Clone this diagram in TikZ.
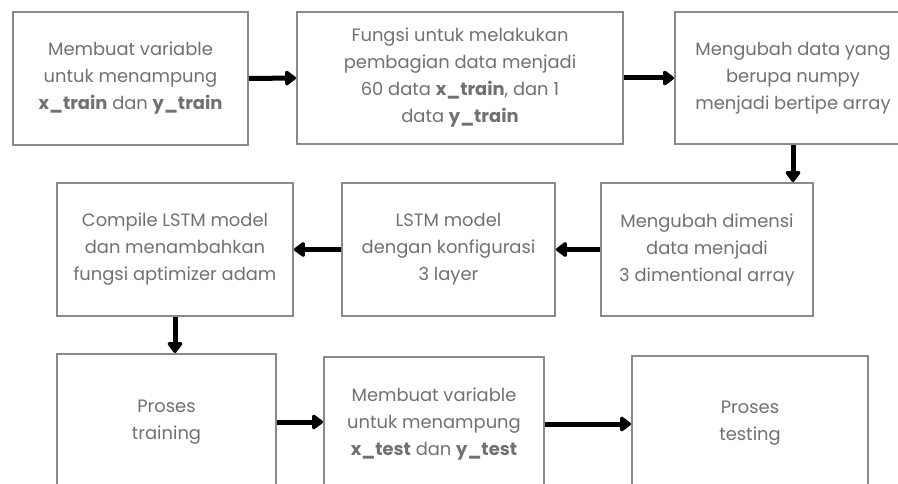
\documentclass[tikz,border=0pt]{standalone}
\usepackage{fontspec}
\setmainfont{Poppins}
\usetikzlibrary{arrows.meta}
\definecolor{boxline}{HTML}{8A8A8A}
\definecolor{boxtext}{HTML}{717171}
\tikzset{
  stepbox/.style={draw=boxline, line width=1.8pt, fill=white, align=center,
    text=boxtext, font=\fontsize{17.9}{27}\selectfont, inner sep=0pt},
  flow/.style={line width=5pt, -{Triangle[length=12pt,width=17pt,round]}, black}
}
\begin{document}
\begin{tikzpicture}[x=1pt,y=-1pt]
\clip (0,0) rectangle (898,484);
\fill[white] (0,0) rectangle (898,484);
% first row
\node[stepbox, minimum width=235pt, minimum height=133pt] (b1) at (130.5,78.5)
  {Membuat variable\\untuk menampung\\\textbf{x\_train} dan \textbf{y\_train}};
\node[stepbox, minimum width=326pt, minimum height=132pt] (b2) at (460,78)
  {Fungsi untuk melakukan\\pembagian data menjadi\\60 data \textbf{x\_train}, dan 1\\data \textbf{y\_train}};
\node[stepbox, minimum width=236pt, minimum height=132pt] (b3) at (793,78)
  {Mengubah data yang\\berupa numpy\\menjadi bertipe array};
% second row
\node[stepbox, minimum width=236pt, minimum height=133pt] (b4) at (175,249.5)
  {Compile LSTM model\\dan menambahkan\\fungsi aptimizer adam};
\node[stepbox, minimum width=213pt, minimum height=133pt] (b5) at (448.5,249.5)
  {LSTM model\\dengan konfigurasi\\3 layer};
\node[stepbox, minimum width=212pt, minimum height=133pt] (b6) at (707,249.5)
  {Mengubah dimensi\\data menjadi\\3 dimentional array};
% third row (runs past the lower edge)
\node[stepbox, minimum width=219pt, minimum height=136pt] (b7) at (166.5,422)
  {Proses\\training};
\node[stepbox, minimum width=220pt, minimum height=134pt] (b8) at (434,424)
  {Membuat variable\\untuk menampung\\\textbf{x\_test} dan \textbf{y\_test}};
\node[stepbox, minimum width=236pt, minimum height=134pt] (b9) at (750,423)
  {Proses\\testing};
% connectors
\draw[flow] (b1.east) -- (b2.west);
\draw[flow] (b2.east) -- (b3.west);
\draw[flow] (b3.south) -- (b3.south |- b6.north);
\draw[flow] (b6.west) -- (b5.east);
\draw[flow] (b5.west) -- (b4.east);
\draw[flow] (b4.south) -- (b4.south |- b7.north);
\draw[flow] (b7.east) -- (b7.east -| b8.west);
\draw[flow] (b8.east) -- (b8.east -| b9.west);
\end{tikzpicture}
\end{document}
